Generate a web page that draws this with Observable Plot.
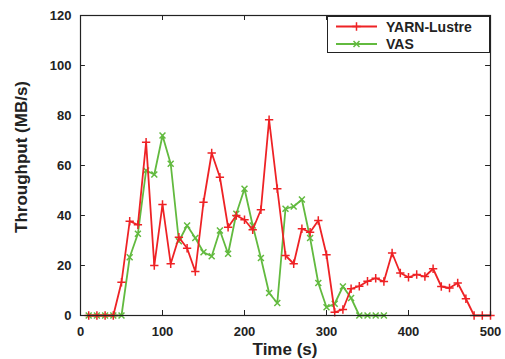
<!DOCTYPE html>
<html>
<head>
<meta charset="utf-8">
<script src="https://cdn.jsdelivr.net/npm/d3@7"></script>
<script src="https://cdn.jsdelivr.net/npm/@observablehq/plot@0.6"></script>
<style>
  html, body { margin: 0; padding: 0; background: #fff; }
  #chart svg { font-family: "Liberation Sans", Arial, sans-serif; }
</style>
</head>
<body>
<div id="chart"></div>
<script>
const times = [10,20,30,40,50,60,70,80,90,100,110,120,130,140,150,160,170,180,190,200,
  210,220,230,240,250,260,270,280,290,300,310,320,330,340,350,360,370,380,390,400,
  410,420,430,440,450,460,470,480,490,500];
const yarnLustre = [0,0,0,0,13.3,37.7,36.3,69.3,20,44.4,20.7,31.3,26.9,17.6,45.3,65,55.3,35.3,40,38.3,
  34.3,42.3,78.3,50.7,24,20.7,34.7,33.3,38,24.3,1.3,2.4,10.7,11.7,13.7,14.9,13.6,25,17,15.3,
  16.4,15.6,18.7,11.6,11,13,6.7,0,0,0];
const vasTimes = times.slice(0, 37);
const vas = [0,0,0,0,0,23.3,32.7,58,56.4,72,60.7,29.7,36,31,25.3,23.7,34,24.7,40.7,50.7,
  36,23,9,5,42.7,43.6,46.4,31,13,3.3,4.7,11.6,7,0,0,0,0];
const seriesNames = ["YARN-Lustre", "VAS"];
const xTicks = [0,100,200,300,400,500];
const yTicks = [0,20,40,60,80,100,120];
const xLabel = "Time (s)";
const yLabel = "Throughput (MB/s)";

const red = "#ee2225";
const green = "#62ba3f";

const redData = times.map((t, i) => ({t, v: yarnLustre[i]}));
const greenData = vasTimes.map((t, i) => ({t, v: vas[i]}));

const W = 505, H = 359;
const plot = Plot.plot({
  width: W, height: H,
  marginLeft: 80, marginRight: 15, marginTop: 15, marginBottom: 44,
  style: {fontFamily: "'Liberation Sans', Arial, sans-serif", fontSize: "13px", fontWeight: "bold", color: "#222"},
  x: {domain: [0, 500]},
  y: {domain: [0, 120]},
  marks: [
    Plot.axisX(xTicks, {tickSize: 0, tickPadding: 11, label: null, fontWeight: "bold", fontSize: 13}),
    Plot.axisY(yTicks, {tickSize: 0, tickPadding: 9, label: null, fontWeight: "bold", fontSize: 13}),
    // inward ticks
    Plot.ruleX(xTicks.slice(1, -1), {y1: 0, y2: 2, stroke: "#222", strokeWidth: 1}),
    Plot.ruleX(xTicks.slice(1, -1), {y1: 118, y2: 120, stroke: "#222", strokeWidth: 1}),
    Plot.ruleY(yTicks.slice(1, -1), {x1: 0, x2: 6, stroke: "#222", strokeWidth: 1}),
    Plot.ruleY(yTicks.slice(1, -1), {x1: 494, x2: 500, stroke: "#222", strokeWidth: 1}),
    Plot.line(greenData, {x: "t", y: "v", stroke: green, strokeWidth: 1.8}),
    Plot.dot(greenData, {x: "t", y: "v", symbol: "times", r: 2.8, stroke: green, strokeWidth: 1.5}),
    Plot.line(redData, {x: "t", y: "v", stroke: red, strokeWidth: 1.8}),
    Plot.dot(redData, {x: "t", y: "v", symbol: "plus", r: 2.8, stroke: red, strokeWidth: 1.5}),
    Plot.frame({stroke: "#222", strokeWidth: 1.2})
  ]
});
document.getElementById("chart").appendChild(plot);

const svg = d3.select(plot);
// axis titles
svg.append("text").attr("x", 285).attr("y", 355).attr("text-anchor", "middle")
  .attr("font-size", 17).attr("font-weight", "bold").attr("fill", "#222").text(xLabel);
svg.append("text").attr("transform", "translate(27,157) rotate(-90)").attr("text-anchor", "middle")
  .attr("font-size", 17).attr("font-weight", "bold").attr("fill", "#222").text(yLabel);

// legend
const lg = svg.append("g");
lg.append("rect").attr("x", 327.5).attr("y", 16.5).attr("width", 162).attr("height", 36)
  .attr("fill", "#fff").attr("stroke", "#222").attr("stroke-width", 1);
const colors = [red, green];
const symbols = [d3.symbolPlus, d3.symbolTimes];
seriesNames.forEach((name, i) => {
  const y = 26.5 + i * 17.5;
  lg.append("line").attr("x1", 336).attr("x2", 377).attr("y1", y).attr("y2", y)
    .attr("stroke", colors[i]).attr("stroke-width", 1.8);
  lg.append("path").attr("transform", `translate(356.5,${y})`)
    .attr("d", d3.symbol(symbols[i], 25)())
    .attr("fill", "none").attr("stroke", colors[i]).attr("stroke-width", 1.5);
  lg.append("text").attr("x", 386).attr("y", y + 5).attr("font-size", 14)
    .attr("text-anchor", "start")
    .attr("font-weight", "bold").attr("fill", "#222").text(name);
});
</script>
</body>
</html>
